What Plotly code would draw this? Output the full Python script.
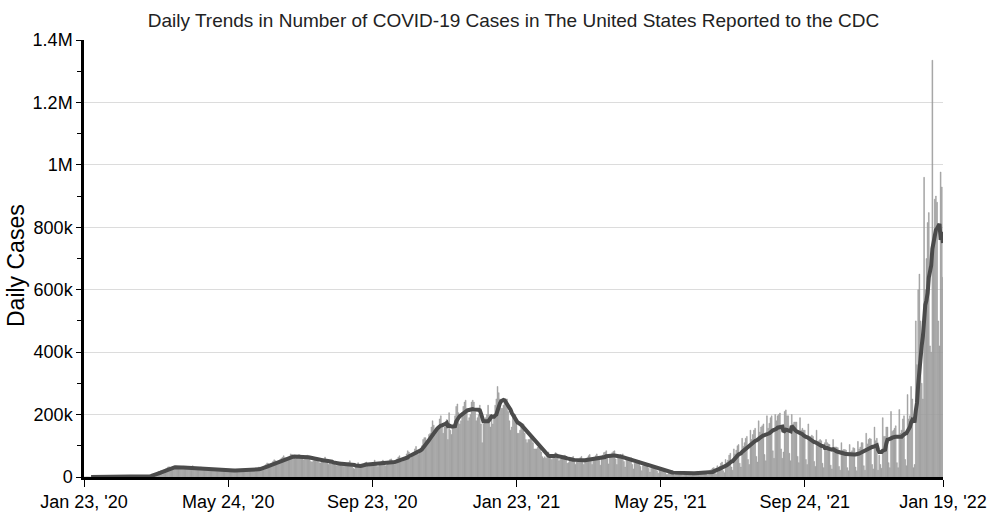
import pandas as pd
import plotly.graph_objects as go

TITLE = "Daily Trends in Number of COVID-19 Cases in The United States Reported to the CDC"
Y_TITLE = "Daily Cases"
START_DATE = "2020-01-23"

# Daily new cases in thousands, one row per week (Thu .. Wed), starting Jan 23, 2020
weeks_2020 = [
    [0, 0, 0, 0, 0, 0, 0],
    [0, 0, 0, 0, 0, 0, 0],
    [0, 0, 0, 0, 0, 0, 0],
    [0, 0, 0, 0, 0, 0, 0],
    [0, 0, 0, 0, 0, 0, 0],
    [0, 0, 0, 0, 0, 0.01, 0.02],
    [0.05, 0.1, 0.1, 0.1, 0.2, 0.3, 0.5],
    [0.6, 0.9, 1, 1.3, 2, 2.8, 4],
    [5.5, 6.5, 8, 9, 10, 11, 13],
    [18, 19, 20, 21, 22, 24, 26],
    [28, 32, 33, 29, 28, 30, 31],
    [34, 35, 31, 28, 27, 29, 30],
    [32, 33, 29, 26, 26, 27, 30],
    [34, 36, 31, 27, 24, 25, 27],
    [30, 32, 29, 25, 23, 24, 25],
    [28, 29, 26, 21, 20, 21, 22],
    [27, 26, 24, 20, 19, 21, 22],
    [27, 25, 23, 19, 18, 19, 20],
    [23, 25, 24, 20, 19, 20, 21],
    [22, 24, 22, 19, 17, 19, 21],
    [24, 26, 25, 20, 19, 23, 25],
    [28, 32, 31, 26, 25, 30, 36],
    [40, 45, 43, 36, 40, 44, 50],
    [55, 52, 46, 40, 45, 55, 60],
    [63, 68, 62, 58, 58, 62, 66],
    [74, 72, 65, 62, 58, 63, 70],
    [72, 70, 64, 58, 55, 60, 68],
    [70, 66, 58, 50, 48, 52, 58],
    [60, 62, 55, 46, 45, 50, 54],
    [58, 64, 52, 44, 40, 45, 48],
    [50, 48, 44, 38, 36, 40, 44],
    [48, 46, 42, 34, 36, 40, 44],
    [46, 52, 40, 32, 28, 26, 34],
    [40, 46, 40, 32, 34, 38, 40],
    [46, 48, 42, 34, 36, 40, 42],
    [46, 54, 44, 34, 34, 40, 44],
    [50, 54, 48, 36, 38, 42, 50],
    [56, 58, 50, 42, 40, 48, 58],
    [64, 68, 56, 48, 56, 60, 62],
    [74, 84, 80, 60, 66, 72, 78],
    [90, 98, 86, 72, 84, 90, 100],
    [120, 126, 126, 104, 116, 136, 140],
    [160, 180, 166, 136, 146, 160, 164],
    [186, 196, 170, 140, 160, 176, 184],
    [120, 206, 150, 136, 160, 170, 196],
    [226, 234, 206, 170, 180, 206, 226],
    [240, 246, 220, 180, 190, 200, 240],
    [246, 240, 210, 180, 190, 200, 230],
    [170, 110, 170, 180, 190, 200, 230],
]

weeks_2021 = [
    [200, 160, 200, 170, 190, 230, 250],
    [290, 270, 250, 220, 220, 230, 240],
    [250, 250, 210, 180, 150, 160, 190],
    [200, 200, 180, 140, 140, 150, 160],
    [170, 170, 140, 120, 110, 120, 120],
    [130, 130, 110, 90, 90, 90, 95],
    [100, 100, 80, 65, 60, 65, 60],
    [70, 80, 70, 60, 56, 65, 72],
    [78, 76, 62, 52, 56, 58, 65],
    [68, 70, 56, 44, 46, 54, 60],
    [62, 66, 52, 40, 48, 52, 56],
    [62, 66, 50, 40, 48, 56, 62],
    [68, 72, 56, 40, 56, 62, 68],
    [74, 66, 54, 38, 62, 70, 78],
    [80, 84, 60, 42, 66, 72, 78],
    [82, 84, 58, 40, 62, 68, 72],
    [70, 74, 50, 32, 54, 58, 62],
    [60, 62, 40, 26, 44, 48, 52],
    [50, 52, 34, 20, 36, 40, 40],
    [40, 42, 28, 16, 28, 30, 32],
    [34, 34, 20, 12, 22, 24, 26],
    [26, 26, 14, 8, 8, 14, 18],
    [20, 20, 10, 6, 14, 16, 16],
    [16, 18, 9, 5, 12, 14, 14],
    [14, 16, 8, 5, 12, 14, 16],
    [16, 18, 8, 5, 14, 16, 18],
    [18, 16, 8, 6, 8, 22, 24],
    [28, 30, 14, 10, 36, 30, 34],
    [44, 48, 20, 14, 56, 46, 54],
    [70, 76, 32, 22, 90, 74, 86],
    [100, 104, 44, 32, 124, 98, 110],
    [124, 130, 56, 40, 150, 120, 136],
    [150, 156, 66, 48, 180, 144, 160],
    [164, 170, 72, 52, 196, 156, 172],
    [190, 196, 84, 60, 200, 180, 196],
    [200, 205, 90, 60, 80, 210, 215],
    [196, 196, 76, 52, 200, 170, 176],
    [176, 176, 66, 46, 190, 150, 156],
    [150, 150, 56, 40, 170, 130, 130],
    [134, 130, 50, 34, 150, 114, 116],
    [120, 116, 44, 30, 110, 120, 110],
    [106, 104, 38, 26, 120, 96, 96],
    [96, 94, 34, 22, 110, 86, 88],
    [88, 86, 30, 20, 104, 80, 84],
    [94, 92, 32, 20, 114, 90, 96],
    [110, 110, 36, 22, 140, 106, 120],
    [124, 122, 40, 26, 160, 116, 124],
    [22, 70, 40, 28, 190, 130, 130],
    [160, 160, 46, 30, 210, 146, 150],
    [156, 164, 46, 30, 216, 140, 150],
    [186, 196, 56, 36, 264, 186, 196],
    [290, 250, 30, 40, 500, 360, 600],
    [650, 500, 300, 250, 960, 600, 700],
    [815, 847, 420, 400, 1335, 750, 890],
    [900, 880, 500, 420, 977, 929, 640],
]

y_tickvals = [0, 200000, 400000, 600000, 800000, 1000000, 1200000, 1400000]
y_ticktext = ["0", "200k", "400k", "600k", "800k", "1M", "1.2M", "1.4M"]
x_tickvals = ["2020-01-23", "2020-05-24", "2020-09-23", "2021-01-23",
              "2021-05-25", "2021-09-24", "2022-01-19"]
x_ticktext = ["Jan 23, '20", "May 24, '20", "Sep 23, '20", "Jan 23, '21",
              "May 25, '21", "Sep 24, '21", "Jan 19, '22"]

daily_k = [v for w in weeks_2020 + weeks_2021 for v in w]
cases = pd.Series([v * 1000 for v in daily_k])
dates = pd.date_range(START_DATE, periods=len(cases), freq="D")
avg7 = cases.rolling(7, min_periods=7).mean()

FONT = "Liberation Sans, Arial, sans-serif"
W, H = 991, 515
ML, MR, MT, MB = 84, 48, 40, 38
plot_w, plot_h = W - ML - MR, H - MT - MB

fig = go.Figure()
fig.add_trace(go.Bar(x=dates, y=cases,
                     marker=dict(color="#9c9c9c", line=dict(width=0.5, color="#9c9c9c")),
                     showlegend=False))
fig.add_trace(go.Scatter(x=dates, y=avg7, mode="lines",
                         line=dict(color="#4b4b4b", width=4), showlegend=False))

fig.update_layout(
    template="none",
    width=W, height=H,
    margin=dict(l=ML, r=MR, t=MT, b=MB, autoexpand=False),
    paper_bgcolor="white", plot_bgcolor="white",
    bargap=0.3,
    font=dict(family=FONT, color="#000"),
    title=dict(text=TITLE, x=0.5, xref="paper", xanchor="center",
               y=1 - 20 / H, yanchor="middle", yref="container",
               font=dict(size=19, color="#222", family=FONT)),
    annotations=[dict(text=Y_TITLE, textangle=-90, showarrow=False,
                      xref="paper", yref="paper",
                      x=(16 - ML) / plot_w, y=(H - MB - 266) / plot_h,
                      xanchor="center", yanchor="middle",
                      font=dict(size=23, color="#000", family=FONT))],
)
fig.update_xaxes(
    type="date", range=["2020-01-23", "2022-01-19"], automargin=False,
    tickvals=x_tickvals, ticktext=x_ticktext, tickfont=dict(size=18),
    showline=True, linecolor="#000", linewidth=2.5,
    ticks="outside", ticklen=7, tickcolor="#000", tickwidth=1,
    showgrid=False, zeroline=False,
)
fig.update_yaxes(
    range=[0, 1400000], automargin=False,
    tickvals=y_tickvals, ticktext=y_ticktext, tickfont=dict(size=18),
    showline=True, linecolor="#000", linewidth=2.5,
    ticks="outside", ticklen=5, tickcolor="#000", tickwidth=1,
    showgrid=True, gridcolor="#dcdcdc", gridwidth=1, zeroline=False,
    minor=dict(dtick=100000, tick0=0, ticks="outside", ticklen=4, tickcolor="#000", showgrid=False),
)

fig.write_html("out.html", config={"displayModeBar": False},
               post_script="document.body.style.margin='0px';document.body.style.overflow='hidden';")
